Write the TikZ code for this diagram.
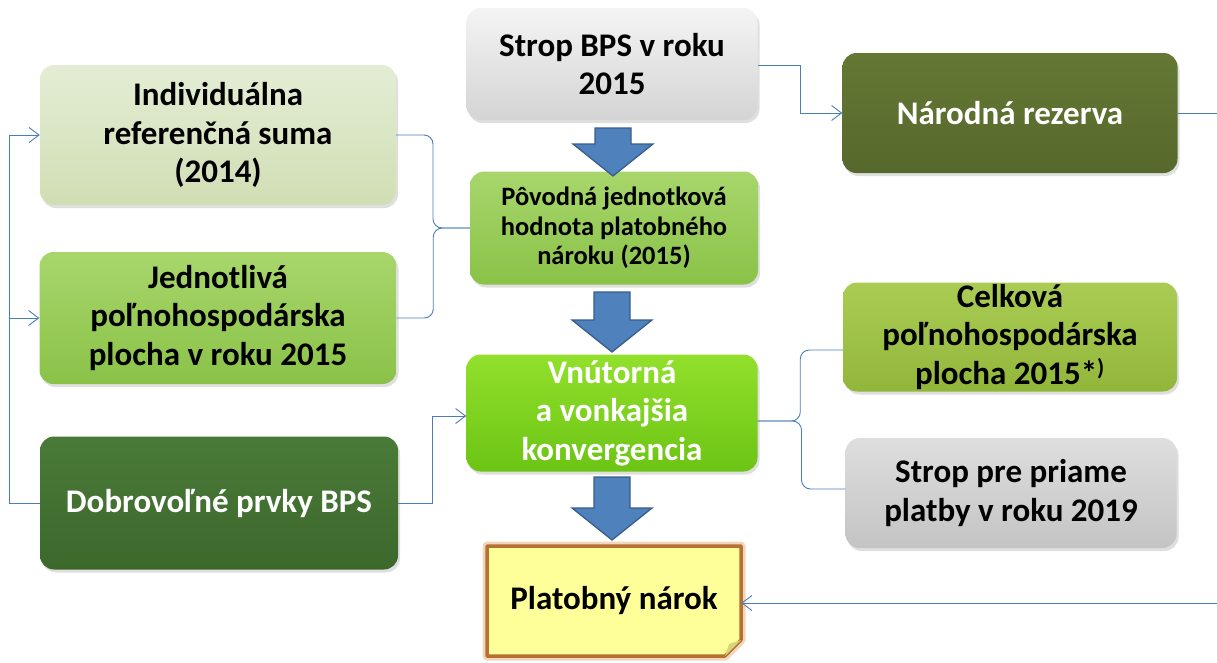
\documentclass[tikz,border=0pt]{standalone}
\usepackage{fontspec}
\setmainfont{Carlito}
\usepackage{tikz}
\usetikzlibrary{shapes, arrows.meta, positioning, calc, shadows}
\definecolor{linkblue}{RGB}{74,126,187}
\definecolor{arrowblue}{RGB}{79,129,189}
\definecolor{arrowedge}{RGB}{56,93,138}
\definecolor{palegreen1}{RGB}{228,237,212}
\definecolor{palegreen2}{RGB}{208,222,180}
\definecolor{leaf1}{RGB}{168,214,108}
\definecolor{leaf2}{RGB}{138,194,72}
\definecolor{forest1}{RGB}{74,122,56}
\definecolor{forest2}{RGB}{60,104,44}
\definecolor{silver1}{RGB}{244,244,244}
\definecolor{silver2}{RGB}{212,212,212}
\definecolor{lime1}{RGB}{146,224,44}
\definecolor{lime2}{RGB}{108,196,20}
\definecolor{olive1}{RGB}{100,120,52}
\definecolor{olive2}{RGB}{86,104,44}
\definecolor{moss1}{RGB}{170,204,84}
\definecolor{moss2}{RGB}{146,182,58}
\definecolor{grey1}{RGB}{222,222,222}
\definecolor{grey2}{RGB}{196,196,196}
\definecolor{noteyellow}{RGB}{255,255,153}
\definecolor{notebrown}{RGB}{182,112,50}
\definecolor{notefold}{RGB}{214,214,120}

\newcommand\blockdown[3]{%
  \draw[barrow] (#1-18,#2) -- (#1+18,#2) -- (#1+18,#3-32) -- (#1+40,#3-32)
    -- (#1,#3) -- (#1-40,#3-32) -- (#1-18,#3-32) -- cycle;}

\begin{document}
\begin{tikzpicture}[x=1pt, y=-1pt,
  gbox/.style={rounded corners=14pt, align=center, inner sep=0pt,
    font=\bfseries\fontsize{33}{38.5}\selectfont,
    drop shadow={shadow xshift=2pt, shadow yshift=-3pt, opacity=0.25}},
  conn/.style={draw=linkblue, line width=0.9pt},
  linkarrow/.style={-{Straight Barb[length=10pt, width=15pt]}},
  barrow/.style={draw=arrowedge, line width=1.3pt, fill=arrowblue, line join=miter}
]
  \useasboundingbox (0,0) rectangle (1217,662);

  \node[gbox, top color=palegreen1, bottom color=palegreen2,
    minimum width=356pt, minimum height=140pt] (indiv) at (218,135)
    {Individuálna\\referenčná suma\\(2014)};
  \node[gbox, top color=leaf1, bottom color=leaf2,
    minimum width=357pt, minimum height=132pt] (jednot) at (218,318)
    {Jednotlivá\\poľnohospodárska\\plocha v roku 2015};
  \node[gbox, top color=forest1, bottom color=forest2, text=white,
    minimum width=358pt, minimum height=133pt] (dobrov) at (219,503)
    {Dobrovoľné prvky BPS};

  \node[gbox, top color=silver1, bottom color=silver2,
    minimum width=291pt, minimum height=112pt] (stropbps) at (612,64)
    {Strop BPS v roku\\2015};
  \node[gbox, top color=leaf1, bottom color=leaf2,
    font=\bfseries\fontsize{26.5}{29.5}\selectfont,
    minimum width=288pt, minimum height=113pt] (povodna) at (614,228)
    {Pôvodná jednotková\\hodnota platobného\\nároku (2015)};
  \node[gbox, top color=lime1, bottom color=lime2, text=white,
    minimum width=291pt, minimum height=117pt] (vnutorna) at (612,413)
    {Vnútorná\\a vonkajšia\\konvergencia};

  \node[gbox, top color=olive1, bottom color=olive2, text=white,
    minimum width=335pt, minimum height=120pt] (narodna) at (1010,113)
    {Národná rezerva};
  \node[gbox, top color=moss1, bottom color=moss2,
    minimum width=334pt, minimum height=109pt] (celkova) at (1010,337)
    {Celková\\poľnohospodárska\\plocha 2015*\textsuperscript{)}};
  \node[gbox, top color=grey1, bottom color=grey2,
    minimum width=331pt, minimum height=110pt] (stroppp) at (1011,493)
    {Strop pre priame\\platby v roku 2019};

  \draw[notebrown!60!orange, opacity=0.3, line width=9pt, line join=round]
    (487,546) -- (741,546) -- (741,640) -- (725,656) -- (487,656) -- cycle;
  \draw[notebrown, line width=3.5pt, fill=noteyellow, line join=round]
    (487,546) -- (741,546) -- (741,640) -- (725,656) -- (487,656) -- cycle;
  \fill[notefold] (741,640) -- (725,656) -- (729,644) -- cycle;
  \node[font=\bfseries\fontsize{33}{38.5}\selectfont, inner sep=0pt,
    minimum width=254pt, minimum height=110pt] (platobny) at (614,601)
    {\raisebox{5pt}{Platobný nárok}};

  \blockdown{613}{128}{176}
  \blockdown{612}{292}{352}
  \blockdown{612}{477}{540}

  \draw[conn, linkarrow] (dobrov.west) -- ++(-30,0) |- (indiv.west);
  \draw[conn, linkarrow] (dobrov.west) -- ++(-30,0) |- (jednot.west);
  \draw[conn, rounded corners=9pt] (indiv.east)
    -| ($(indiv.east)!.5!(povodna.west)$) |- (povodna.west);
  \draw[conn, rounded corners=9pt] (jednot.east)
    -| ($(jednot.east)!.5!(povodna.west)$) |- (povodna.west);
  \draw[conn, linkarrow] (dobrov.east)
    -| ($(dobrov.east)!.5!(vnutorna.west)$) |- ([yshift=-3pt]vnutorna.west);
  \draw[conn, linkarrow] ([yshift=-1pt]stropbps.east)
    -| ($(stropbps.east)!.5!(narodna.west)$) |- (narodna.west);
  \draw[conn, rounded corners=9pt] ([yshift=-8pt]vnutorna.east)
    -| ($(vnutorna.east)!.5!(celkova.west)$) |- ([yshift=-13pt]celkova.west);
  \draw[conn, rounded corners=9pt] ([yshift=-8pt]vnutorna.east)
    -| ($(vnutorna.east)!.5!(stroppp.west)$) |- ([yshift=4pt]stroppp.west);
  \draw[conn, linkarrow] (narodna.east) -- ++(60,0) |- ([yshift=-2pt]platobny.east);
\end{tikzpicture}
\end{document}
